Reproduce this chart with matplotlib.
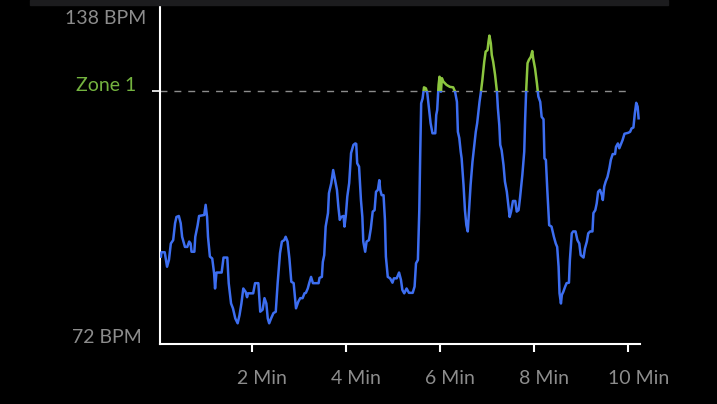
import matplotlib
matplotlib.use("Agg")
import matplotlib.pyplot as plt
from matplotlib.patches import Rectangle
from matplotlib.transforms import ScaledTranslation

# ---- data ----
minutes = [0.07, 0.08, 0.15, 0.20, 0.24, 0.28, 0.33, 0.37, 0.40, 0.45, 0.49, 0.52, 0.58, 0.63, 0.67, 0.70,
           0.72, 0.78, 0.80, 0.85, 0.88, 0.99, 1.02, 1.05, 1.07, 1.11, 1.16, 1.20, 1.22, 1.25, 1.36, 1.40,
           1.48, 1.51, 1.56, 1.60, 1.65, 1.70, 1.74, 1.78, 1.82, 1.87, 1.90, 1.92, 2.03, 2.07, 2.14, 2.18,
           2.23, 2.27, 2.31, 2.34, 2.37, 2.41, 2.46, 2.51, 2.55, 2.60, 2.64, 2.69, 2.72, 2.76, 2.80, 2.84,
           2.89, 2.94, 2.99, 3.03, 3.08, 3.12, 3.15, 3.19, 3.22, 3.26, 3.30, 3.42, 3.44, 3.49, 3.51, 3.54,
           3.57, 3.62, 3.64, 3.69, 3.73, 3.77, 3.81, 3.84, 3.87, 3.90, 3.95, 3.97, 4.00, 4.03, 4.07, 4.11,
           4.16, 4.20, 4.22, 4.24, 4.28, 4.32, 4.35, 4.37, 4.41, 4.44, 4.49, 4.53, 4.57, 4.61, 4.64, 4.68,
           4.71, 4.73, 4.76, 4.80, 4.83, 4.85, 4.89, 4.94, 4.99, 5.02, 5.08, 5.13, 5.17, 5.20, 5.24, 5.29,
           5.34, 5.42, 5.46, 5.49, 5.53, 5.56, 5.58, 5.60, 5.63, 5.66, 5.70, 5.73, 5.77, 5.80, 5.84, 5.90,
           5.92, 5.94, 5.97, 5.99, 6.02, 6.04, 6.07, 6.11, 6.14, 6.21, 6.28, 6.32, 6.36, 6.38, 6.41, 6.44,
           6.46, 6.50, 6.53, 6.56, 6.59, 6.62, 6.65, 6.69, 6.73, 6.76, 6.79, 6.84, 6.87, 6.90, 6.94, 6.97,
           7.01, 7.03, 7.05, 7.08, 7.10, 7.13, 7.17, 7.21, 7.23, 7.26, 7.28, 7.31, 7.35, 7.38, 7.42, 7.45,
           7.48, 7.51, 7.55, 7.60, 7.63, 7.67, 7.70, 7.75, 7.79, 7.81, 7.83, 7.86, 7.89, 7.93, 7.96, 7.98,
           8.02, 8.06, 8.09, 8.13, 8.16, 8.20, 8.22, 8.25, 8.28, 8.32, 8.37, 8.42, 8.46, 8.49, 8.52, 8.54,
           8.57, 8.59, 8.62, 8.66, 8.69, 8.74, 8.76, 8.80, 8.83, 8.88, 8.92, 8.96, 8.99, 9.05, 9.08, 9.12,
           9.15, 9.19, 9.24, 9.26, 9.30, 9.33, 9.36, 9.40, 9.44, 9.46, 9.49, 9.52, 9.56, 9.60, 9.63, 9.67,
           9.72, 9.74, 9.78, 9.81, 9.85, 9.88, 9.92, 10.00, 10.04, 10.07, 10.11, 10.14, 10.17, 10.20, 10.22]
bpm = [88.8, 89.7, 89.7, 86.7, 88.1, 91.5, 92.2, 95.7, 97.0, 97.2, 95.7, 92.9, 90.8, 90.8, 91.9, 91.5,
       89.8, 89.8, 92.9, 95.3, 97.2, 97.4, 99.5, 97.0, 92.9, 88.8, 88.4, 85.3, 82.2, 85.5, 85.5, 88.6,
       88.6, 83.3, 79.1, 78.1, 76.0, 75.0, 76.7, 79.1, 82.2, 81.5, 80.4, 81.2, 81.2, 83.3, 83.3, 77.4,
       77.8, 80.2, 79.1, 76.0, 75.0, 76.0, 77.1, 77.4, 83.3, 89.5, 91.9, 92.2, 92.9, 91.9, 88.4, 83.6,
       83.3, 78.1, 79.5, 80.2, 80.2, 81.2, 81.3, 82.2, 83.3, 84.6, 83.3, 83.3, 84.4, 84.6, 87.7, 89.1,
       95.0, 97.8, 101.9, 104.0, 106.7, 104.6, 102.6, 99.1, 96.4, 97.0, 97.2, 95.0, 97.4, 101.2, 104.0, 110.2,
       111.9, 112.2, 112.1, 108.1, 107.4, 100.5, 97.0, 91.9, 89.8, 91.9, 92.2, 94.6, 98.1, 98.4, 102.2, 102.6,
       104.6, 102.6, 101.5, 101.5, 96.4, 88.8, 84.6, 84.3, 83.4, 84.3, 84.3, 85.5, 84.0, 81.9, 81.2, 82.2,
       81.3, 81.3, 82.6, 87.4, 88.1, 98.4, 110.2, 120.5, 121.5, 123.8, 123.6, 122.6, 119.1, 116.4, 114.3, 114.3,
       118.1, 119.1, 124.3, 126.0, 122.9, 125.7, 125.0, 124.6, 124.3, 123.9, 123.8, 122.9, 120.8, 114.6, 113.3, 110.5,
       109.1, 103.6, 98.4, 95.3, 94.0, 98.8, 103.6, 108.4, 111.9, 114.6, 116.4, 120.8, 122.9, 125.3, 129.1, 131.2,
       131.5, 133.2, 134.5, 132.9, 130.5, 129.1, 126.4, 122.9, 119.5, 116.0, 111.9, 110.8, 107.7, 104.3, 102.2, 99.5,
       97.0, 98.1, 100.3, 100.3, 98.1, 98.4, 100.9, 105.7, 110.5, 117.4, 122.9, 128.8, 129.5, 130.1, 131.3, 129.8,
       127.7, 124.6, 121.9, 120.8, 117.7, 117.2, 109.1, 108.8, 102.6, 95.3, 95.0, 92.9, 91.5, 90.8, 86.7, 81.2,
       79.1, 80.9, 81.5, 82.6, 83.3, 83.4, 88.1, 93.6, 94.0, 94.0, 92.2, 91.5, 89.1, 88.6, 90.5, 91.9,
       93.6, 94.0, 94.0, 97.8, 98.4, 99.8, 102.2, 102.6, 101.5, 100.5, 103.3, 104.3, 105.3, 107.1, 108.8, 110.0,
       110.0, 111.5, 112.2, 111.2, 112.2, 112.9, 114.2, 114.4, 114.6, 115.3, 115.5, 118.4, 120.6, 119.8, 117.4]

x_ticks = [2, 4, 6, 8, 10]
x_tick_labels = ["2 Min", "4 Min", "6 Min", "8 Min", "10 Min"]
y_min_label, y_max_label = 72, 138
zone1 = 123
zone_label = "Zone 1"

# ---- style ----
BLUE = "#3d6ef0"
GREEN = "#8cc63f"
ZONE_TXT = "#74b33f"
GRAY_TXT = "#8c8c8c"
FONT = "Lato"
WEIGHT = "normal"

fig = plt.figure(figsize=(7.17, 4.04), dpi=100, facecolor="black")
fig.patches.append(Rectangle((30 / 717, 1 - 5 / 404), 638 / 717, 5 / 404,
                             transform=fig.transFigure, color="#1c1c1e", zorder=0))
ax = fig.add_axes([160 / 717, 60 / 404, 480 / 717, 339 / 404])
ax.set_facecolor("black")

xlim = (0.05, 10.25)
ylim = (70.72, 140.83)
ax.set_xlim(*xlim)
ax.set_ylim(*ylim)

for side in ("top", "right"):
    ax.spines[side].set_visible(False)
for side in ("left", "bottom"):
    ax.spines[side].set_color("white")
    ax.spines[side].set_linewidth(1.5)

# heart-rate line, blue below zone, green above
blue_line, = ax.plot(minutes, bpm, color=BLUE, lw=1.8, solid_joinstyle="round", zorder=3)
green_line, = ax.plot(minutes, bpm, color=GREEN, lw=1.8, solid_joinstyle="round", zorder=3)
below = Rectangle((xlim[0], ylim[0]), xlim[1] - xlim[0], zone1 - ylim[0], transform=ax.transData)
above = Rectangle((xlim[0], zone1), xlim[1] - xlim[0], ylim[1] - zone1, transform=ax.transData)
blue_line.set_clip_path(below)
green_line.set_clip_path(above)

# zone dashed line
ax.plot([xlim[0], 10.08], [zone1, zone1], color="#8c8c8c", lw=1.0,
        dashes=(5.0, 5.0), zorder=2)

# ticks
ax.set_xticks(x_ticks)
ax.set_xticklabels(x_tick_labels)
ax.tick_params(axis="x", colors="white", width=1.5, length=6, direction="out",
               labelcolor=GRAY_TXT, labelsize=14, pad=13)
shift = ScaledTranslation(10 / 100, 0, fig.dpi_scale_trans)
for lab in ax.get_xticklabels():
    lab.set_fontfamily(FONT)
    lab.set_fontweight(WEIGHT)
    lab.set_transform(lab.get_transform() + shift)
ax.set_yticks([zone1])
ax.set_yticklabels([""])
ax.tick_params(axis="y", colors="white", width=1.2, length=6, direction="out")

# y labels
ykw = dict(xycoords=("axes fraction", "data"), textcoords="offset points",
           ha="right", va="center", fontsize=14, fontfamily=FONT, fontweight=WEIGHT)
ax.annotate(f"{y_max_label} BPM", (0, y_max_label), xytext=(-10, 0), color=GRAY_TXT, **ykw)
ax.annotate(f"{y_min_label} BPM", (0, y_min_label), xytext=(-13.5, 0), color=GRAY_TXT, **ykw)
ax.annotate(zone_label, (0, zone1), xytext=(-17, 4), color=ZONE_TXT, **ykw)

fig.savefig("out.png", dpi=100, facecolor="black")
